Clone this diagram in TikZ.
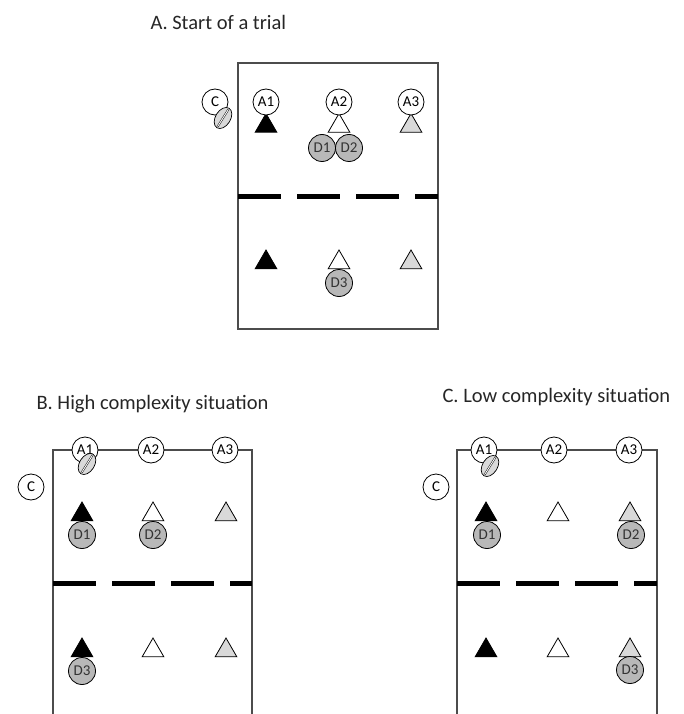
\documentclass[tikz,border=0pt]{standalone}
\usepackage{fontspec}
\setmainfont{Carlito}
\usetikzlibrary{shapes.geometric}
\usetikzlibrary{positioning}
\definecolor{wallgray}{rgb}{0.3, 0.3, 0.3}
\definecolor{lgray}{rgb}{0.85, 0.85, 0.85}
\definecolor{dgray}{rgb}{0.72, 0.72, 0.72}

\tikzset{
  lbl/.style={circle, draw=black, fill=white, line width=0.8pt, minimum size=26pt,
    inner sep=0pt, font=\fontsize{15}{15}\selectfont},
  dsc/.style={lbl, fill=dgray, minimum size=27pt, text=black!80},
  tri/.style={regular polygon, regular polygon sides=3, draw=black, line width=0.8pt,
    minimum size=25pt, inner sep=0pt},
  wall/.style={draw=wallgray, line width=1.3pt},
  barrier/.style={draw=black, line width=5pt, dash pattern=on 43pt off 16pt},
  title/.style={anchor=west, font=\fontsize{20.5}{24}\selectfont, text=black!85},
  stylus/.pic={
    \draw [fill=lgray, line width=0.7pt, rotate=58] (0,0) ellipse (11.5pt and 7.5pt);
    \draw [rotate=58, line width=0.45pt, double=white, double distance=0.9pt] (-10pt,0) -- (10pt,0);
  }
}

\begin{document}
\begin{tikzpicture}[x=1pt, y=-1pt]
  \useasboundingbox (0,0) rectangle (683,714);

  % A. start of a trial
  \node [title] (tA) at (147,22) {A. Start of a trial};
  \draw [wall] (238,63) rectangle (438,329);
  \draw [barrier] (238,196) -- (438,196);
  \foreach \x/\c/\n in {266/black/1, 339/white/2, 411/lgray/3} {
    \node [tri, fill=\c] (upA\n) at (\x,126) {};
    \node [tri, fill=\c] (loA\n) at (\x,262.5) {};
    \node [lbl] (aA\n) at (\x,102) {A\n};
  };
  \node [lbl] (cA) at (215,102) {C};
  \pic at (223,118) {stylus};
  \node [dsc] (d1A) at (322,148) {D1};
  \node [dsc] (d2A) at (349,148) {D2};
  \node [dsc] (d3A) at (339,283) {D3};

  % B. high complexity
  \node [title] (tB) at (33,404) {B. High complexity situation};
  \draw [wall] (53,714) -- (53,450) -- (252,450) -- (252,714);
  \draw [barrier] (53,583) -- (252,583);
  \foreach \x/\c/\n in {82/black/1, 153/white/2, 226/lgray/3} {
    \node [tri, fill=\c] (upB\n) at (\x,514.5) {};
    \node [tri, fill=\c] (loB\n) at (\x,650.5) {};
  };
  \foreach \x/\n in {85/1, 151/2, 225/3}
    \node [lbl] (aB\n) at (\x,450) {A\n};
  \node [lbl] (cB) at (31,487) {C};
  \pic at (87,464) {stylus};
  \node [dsc] (d1B) at (82,535) {D1};
  \node [dsc] (d2B) at (153,535) {D2};
  \node [dsc] (d3B) at (82,671) {D3};

  % C. low complexity
  \node [title] (tC) at (439,397) {C. Low complexity situation};
  \draw [wall] (457,714) -- (457,450) -- (657,450) -- (657,714);
  \draw [barrier] (457,583) -- (657,583);
  \foreach \x/\c/\n in {486/black/1, 558/white/2, 630/lgray/3} {
    \node [tri, fill=\c] (upC\n) at (\x,514.5) {};
    \node [tri, fill=\c] (loC\n) at (\x,650.5) {};
  };
  \foreach \x/\n in {484/1, 554/2, 629/3}
    \node [lbl] (aC\n) at (\x,450) {A\n};
  \node [lbl] (cC) at (436,487) {C};
  \pic at (490,466) {stylus};
  \node [dsc] (d1C) at (487,535) {D1};
  \node [dsc] (d2C) at (631,535) {D2};
  \node [dsc] (d3C) at (630,670) {D3};
\end{tikzpicture}
\end{document}
